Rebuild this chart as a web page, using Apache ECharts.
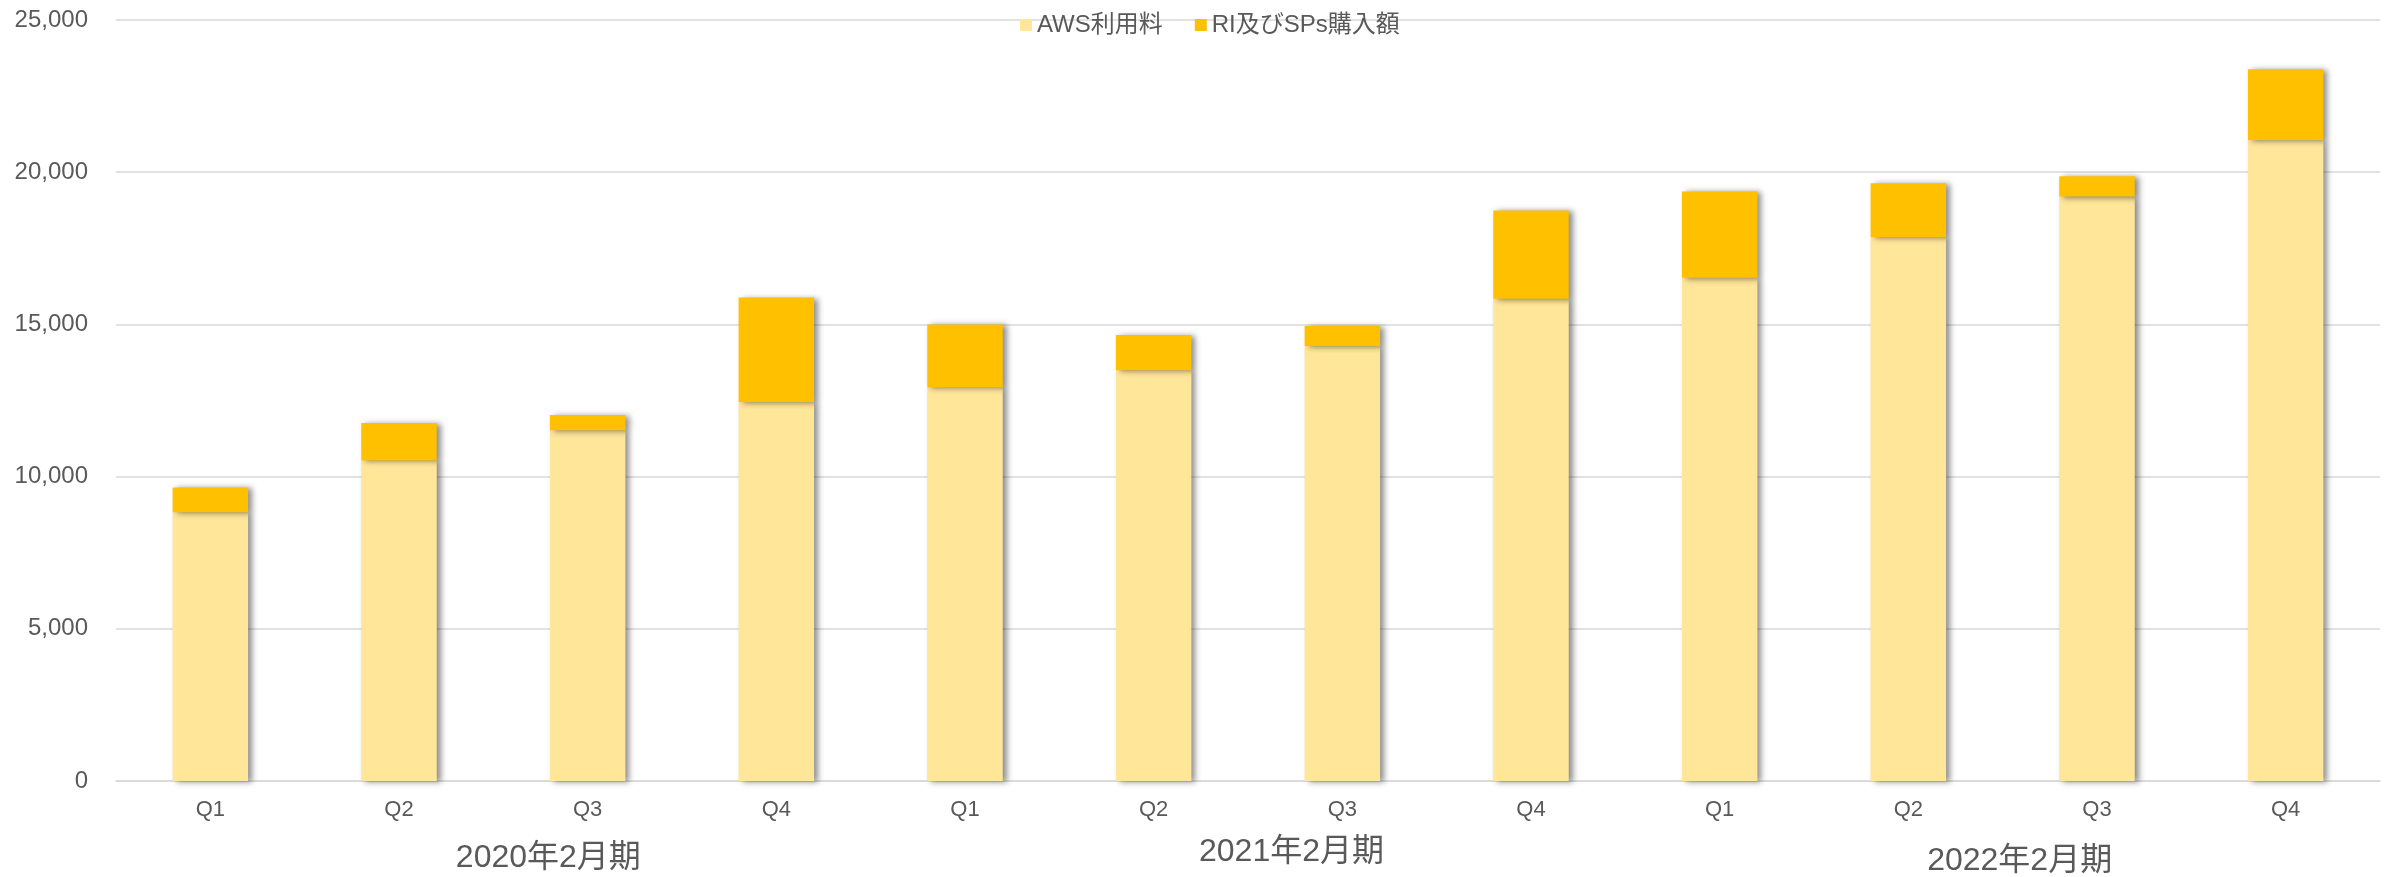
<!DOCTYPE html>
<html>
<head>
<meta charset="utf-8">
<script src="https://cdn.jsdelivr.net/npm/echarts@6/dist/echarts.min.js"></script>
<style>
html,body{margin:0;padding:0;background:#fff;overflow:hidden;}
#chart{width:2392px;height:877px;}
</style>
</head>
<body>
<div id="chart"></div>
<script>
const quarters = ['Q1','Q2','Q3','Q4','Q1','Q2','Q3','Q4','Q1','Q2','Q3','Q4'];
const fiscalYears = ['2020年2月期','2021年2月期','2022年2月期'];
const awsUsage = [8830, 10530, 11520, 12450, 12930, 13490, 14290, 15840, 16530, 17870, 19200, 21060];
const riSpPurchase = [815, 1230, 500, 3430, 2070, 1160, 660, 2905, 2840, 1770, 670, 2320];
const seriesNames = ['AWS利用料','RI及びSPs購入額'];
const yTicks = [0, 5000, 10000, 15000, 20000, 25000];

const FONT = '"Liberation Sans", Arial, "Noto Sans CJK JP", sans-serif';
const TEXT = '#595959';
const yearLabelPad = [[6,0,0,110],[0,0,0,87],[9,0,0,34]];

const shadow = {shadowColor:'rgba(0,0,0,0.45)', shadowBlur:6, shadowOffsetX:4, shadowOffsetY:1};

const chart = echarts.init(document.getElementById('chart'), null, {renderer:'canvas'});
chart.setOption({
  animation:false,
  textStyle:{fontFamily:FONT},
  legend:{
    data:seriesNames, top:13, left:1020, padding:0,
    itemWidth:12, itemHeight:12, itemGap:32, icon:'rect',
    textStyle:{color:TEXT, fontSize:24, fontFamily:FONT}
  },
  grid:{left:116, right:12, top:20, bottom:96, containLabel:false},
  xAxis:[{
    type:'category', data:quarters,
    axisLine:{lineStyle:{color:'#d9d9d9', width:1.5}},
    axisTick:{show:false},
    axisLabel:{color:TEXT, fontSize:22, margin:18, fontFamily:FONT}
  },{
    type:'category', position:'bottom',
    data:fiscalYears.map((y,i)=>({value:y, textStyle:{padding:yearLabelPad[i]}})),
    axisLine:{show:false}, axisTick:{show:false}, splitLine:{show:false},
    axisLabel:{color:TEXT, fontSize:32, margin:55, interval:0, fontFamily:FONT}
  }],
  yAxis:{
    type:'value', min:yTicks[0], max:yTicks[yTicks.length-1], interval:yTicks[1]-yTicks[0],
    axisLine:{show:false}, axisTick:{show:false},
    splitLine:{lineStyle:{color:'#d9d9d9', width:1.5}},
    axisLabel:{color:TEXT, fontSize:24, margin:28, fontFamily:FONT,
      formatter:v=>v.toLocaleString('en-US')}
  },
  series:[{
    name:seriesNames[0], type:'bar', stack:'total', data:awsUsage, xAxisIndex:0,
    barWidth:'40%', itemStyle:Object.assign({color:'#FFE699'}, shadow)
  },{
    name:seriesNames[1], type:'bar', stack:'total', data:riSpPurchase, xAxisIndex:0,
    barWidth:'40%', itemStyle:Object.assign({color:'#FFC000'}, shadow)
  }]
});
</script>
</body>
</html>
